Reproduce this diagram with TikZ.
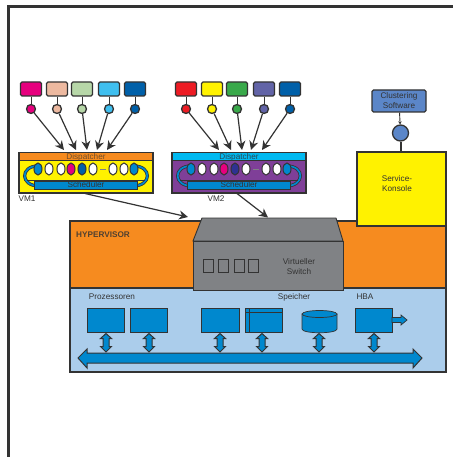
\documentclass[tikz,border=0pt]{standalone}
\usepackage{fontspec}
\setmainfont{Liberation Sans}
\usetikzlibrary{arrows.meta,shapes.geometric}
\definecolor{cMag}{HTML}{E6007E}\definecolor{cPeach}{HTML}{EDB9A0}\definecolor{cSage}{HTML}{B7D7A8}
\definecolor{cSky}{HTML}{3FBFEF}\definecolor{cBlue}{HTML}{0060A9}\definecolor{cRed}{HTML}{ED1C24}
\definecolor{cYel}{HTML}{FFF200}\definecolor{cGreen}{HTML}{39A94A}\definecolor{cPeri}{HTML}{6264A7}
\definecolor{cOrange}{HTML}{F68B1F}\definecolor{cLight}{HTML}{ABCDEB}\definecolor{cMid}{HTML}{0088CE}
\definecolor{cPurple}{HTML}{7F3F98}\definecolor{cCyan}{HTML}{00B9F1}\definecolor{cGray}{HTML}{808285}
\definecolor{cClu}{HTML}{5B86C8}\definecolor{cInk}{HTML}{333333}\definecolor{cNavy}{HTML}{2E3192}
\tikzset{
 x=1pt,y=-1pt,
 ink/.style={draw=cInk,line width=1.3pt},
 sqbox/.style={ink,rounded corners=1.5pt,minimum width=21pt,minimum height=14pt,inner sep=0pt,anchor=center},
 dotc/.style={circle,ink,minimum size=9pt,inner sep=0pt},
 ovalc/.style={ellipse,draw=cInk,line width=1pt,minimum width=8pt,minimum height=12pt,inner sep=0pt},
 plain/.style={inner sep=0pt,text=#1,font=\fontsize{8.2}{10}\selectfont,align=center},
 plain/.default=cInk,
 feed/.style={draw=cInk,line width=1.2pt,-{Stealth[length=9pt,width=9pt]}},
 stem/.style={draw=cInk,line width=.9pt,-{Stealth[length=3pt,width=3.5pt]}},
 hostbox/.style={draw=cInk,line width=.9pt,fill=cMid,inner sep=0pt},
}
\newcommand{\dblarrow}[1]{%
 \fill[cMid,draw=cInk,line width=1pt] (#1,333.5)--(#1+5.5,338.5)--(#1+3,338.5)--(#1+3,346.5)--(#1+5.5,346.5)--(#1,352)--(#1-5.5,346.5)--(#1-3,346.5)--(#1-3,338.5)--(#1-5.5,338.5)--cycle;}
\newcommand{\vmbox}[7]{% name, xoffset, band, body, text colour, oval fills
 \node[rectangle,ink,fill=#4,minimum width=134pt,minimum height=40pt,inner sep=0pt] (#1) at (#2+67,173) {};
 \fill[#3] (#2+1,153.5) rectangle (#2+133,160.5);
 \draw[cInk,line width=.6pt] (#2+.5,160.5)--(#2+133.5,160.5);
 \node[plain=#5] (#1disp) at (#2+67,157) {Dispatcher};
 \foreach \s/\w in {3.2/cInk,1.7/cMid}{
  \draw[\w,line width=\s pt] (#2+19,166) .. controls (#2+1,166) and (#2+1,186) .. (#2+20,186);
  \draw[\w,line width=\s pt] (#2+115,166) .. controls (#2+133,166) and (#2+133,186) .. (#2+114,186);
 }
 \draw[cInk,line width=1pt] (#2+8,180.5)--(#2+126,180.5);
 \node[rectangle,draw=cInk,line width=.5pt,fill=cMid,minimum width=103pt,minimum height=8pt,inner sep=0pt] (#1sch) at (#2+67,185) {};
 \node[plain] at (#1sch) {Scheduler};
 \foreach \ox/\oc [count=\i] in {19/cMid,30/white,42/white,52/#6,63/#7,74/white,94/white,105/white,115/cMid}
  \node[ovalc,fill=\oc] (#1o\i) at (#2+\ox,169) {};
 \draw[cGray,line width=.5pt] (#2+81,169)--(#2+87,169);
}
\begin{document}
\begin{tikzpicture}
\useasboundingbox (0,0) rectangle (453,457);
\fill[white] (0,0) rectangle (453,457);
% page frame
\draw[cInk,line width=2.4pt] (8.5,457)--(8.5,6.5)--(453,6.5);

% hypervisor and hardware
\node[rectangle,ink,fill=cOrange,minimum width=376pt,minimum height=67pt,inner sep=0pt] (hyp) at (258,254.5) {};
\node[rectangle,ink,fill=cLight,minimum width=376pt,minimum height=84pt,inner sep=0pt] (hw) at (258,330) {};
\node[inner sep=0pt,font=\bfseries\fontsize{8.2}{9}\selectfont,text=cInk!85!cOrange] (hyplab) at (103,235) {HYPERVISOR};
\node[plain] (proz) at (112,297) {Prozessoren};
\node[plain] (spei) at (294,297) {Speicher};
\node[plain] (hbal) at (365,297) {HBA};

% service console
\node[rectangle,draw=cInk,line width=1.5pt,fill=cYel,minimum width=89pt,minimum height=74pt,inner sep=0pt] (svc) at (401.5,189) {};
\node[plain] at (397,184) {Service-\\Konsole};
\node[rectangle,ink,fill=cClu,rounded corners=1.5pt,minimum width=54pt,minimum height=22pt,inner sep=0pt,plain] (clu) at (399,101) {Clustering\\Software};
\node[circle,ink,fill=cClu,minimum size=16pt,inner sep=0pt] (cdot) at (400.5,133) {};
\draw[stem] (clu)--(cdot);
\draw[cInk,line width=2pt] (cdot)--(svc.north-|cdot);

% switch
\fill[cGray,draw=cInk,line width=.9pt] (193,241)--(202,218)--(336,218)--(343,241)--cycle;
\node[rectangle,draw=cInk,line width=.9pt,fill=cGray,minimum width=150pt,minimum height=49pt,inner sep=0pt] (sw) at (268,266) {};
\node[plain] at (299,267) {Virtueller\\Switch};
\foreach \px [count=\i] in {208.5,223.5,239.5,253.5}
 \node[rectangle,draw=cInk,line width=1pt,minimum width=10pt,minimum height=13pt,inner sep=0pt] (port\i) at (\px,265.5) {};

% hardware units
\node[hostbox,rectangle,minimum width=37pt,minimum height=24pt] (cpu1) at (105.5,320) {};
\node[hostbox,rectangle,minimum width=37pt,minimum height=24pt] (cpu2) at (148.5,320) {};
\node[hostbox,rectangle,minimum width=38pt,minimum height=24pt] (cpu3) at (220,320) {};
\node[hostbox,rectangle,minimum width=37pt,minimum height=24pt] (mem) at (263.5,320) {};
\draw[cInk,line width=.9pt] (245,312)--(282,312) (249,308)--(249,332);
\node[hostbox,rectangle,minimum width=37pt,minimum height=24pt] (hba) at (373.5,320) {};
% disk
\fill[cMid,draw=cInk,line width=.7pt] (302,314) -- (302,329) .. controls (302,334) and (337,334) .. (337,329) -- (337,314) -- cycle;
\fill[cMid,draw=cInk,line width=.7pt] (319.5,314) ellipse[x radius=17.5,y radius=3.5];
% HBA port arrow
\fill[cMid,draw=cInk,line width=.7pt] (392,317.5)--(401,317.5)--(401,315)--(407,320)--(401,325)--(401,322.5)--(392,322.5)--cycle;
% bus
\fill[cMid,draw=cInk,line width=1pt] (78,358)--(87,349)--(87,353)--(413,353)--(413,349)--(422,358)--(413,368)--(413,363)--(87,363)--(87,368)--cycle;
\foreach \bx in {106,149,220,262,319,374} {\dblarrow{\bx}}

% virtual machines
\vmbox{vmA}{19}{cOrange}{cYel}{cInk!70!cOrange}{cMag}{cBlue}
\vmbox{vmB}{172}{cCyan}{cPurple}{cInk!85!cCyan}{cMag}{cNavy}
\node[plain] (vmAl) at (27,199) {VM1};
\node[plain] (vmBl) at (216,199) {VM2};

% workloads of VM1
\foreach \sx/\sc/\ex [count=\i] in {31/cMag/64,57/cPeach/76,82/cSage/87,109/cSky/97,135/cBlue/107}{
 \node[sqbox,fill=\sc] (a\i) at (\sx,89) {};
 \node[dotc,fill=\sc] (ad\i) at (\sx,109) {};
 \coordinate (ae\i) at (\ex,150);
 \draw[cInk,line width=.8pt] (a\i)--(ad\i);
 \draw[feed] (ad\i)--(ae\i);
}
% workloads of VM2
\foreach \sx/\sc/\ex [count=\i] in {186/cRed/219,212/cYel/231,237/cGreen/242,264/cPeri/251,290/cBlue/262}{
 \node[sqbox,fill=\sc] (b\i) at (\sx,89) {};
 \node[dotc,fill=\sc] (bd\i) at (\sx,109) {};
 \coordinate (be\i) at (\ex,150);
 \draw[cInk,line width=.8pt] (b\i)--(bd\i);
 \draw[feed] (bd\i)--(be\i);
}
% VM to hypervisor
\coordinate (vmAs) at (85,193.5);
\coordinate (vmBs) at (237,193.5);
\coordinate (hypA) at (188,217);
\coordinate (hypB) at (268,217.5);
\draw[feed] (vmAs)--(hypA);
\draw[feed] (vmBs)--(hypB);
\end{tikzpicture}
\end{document}
